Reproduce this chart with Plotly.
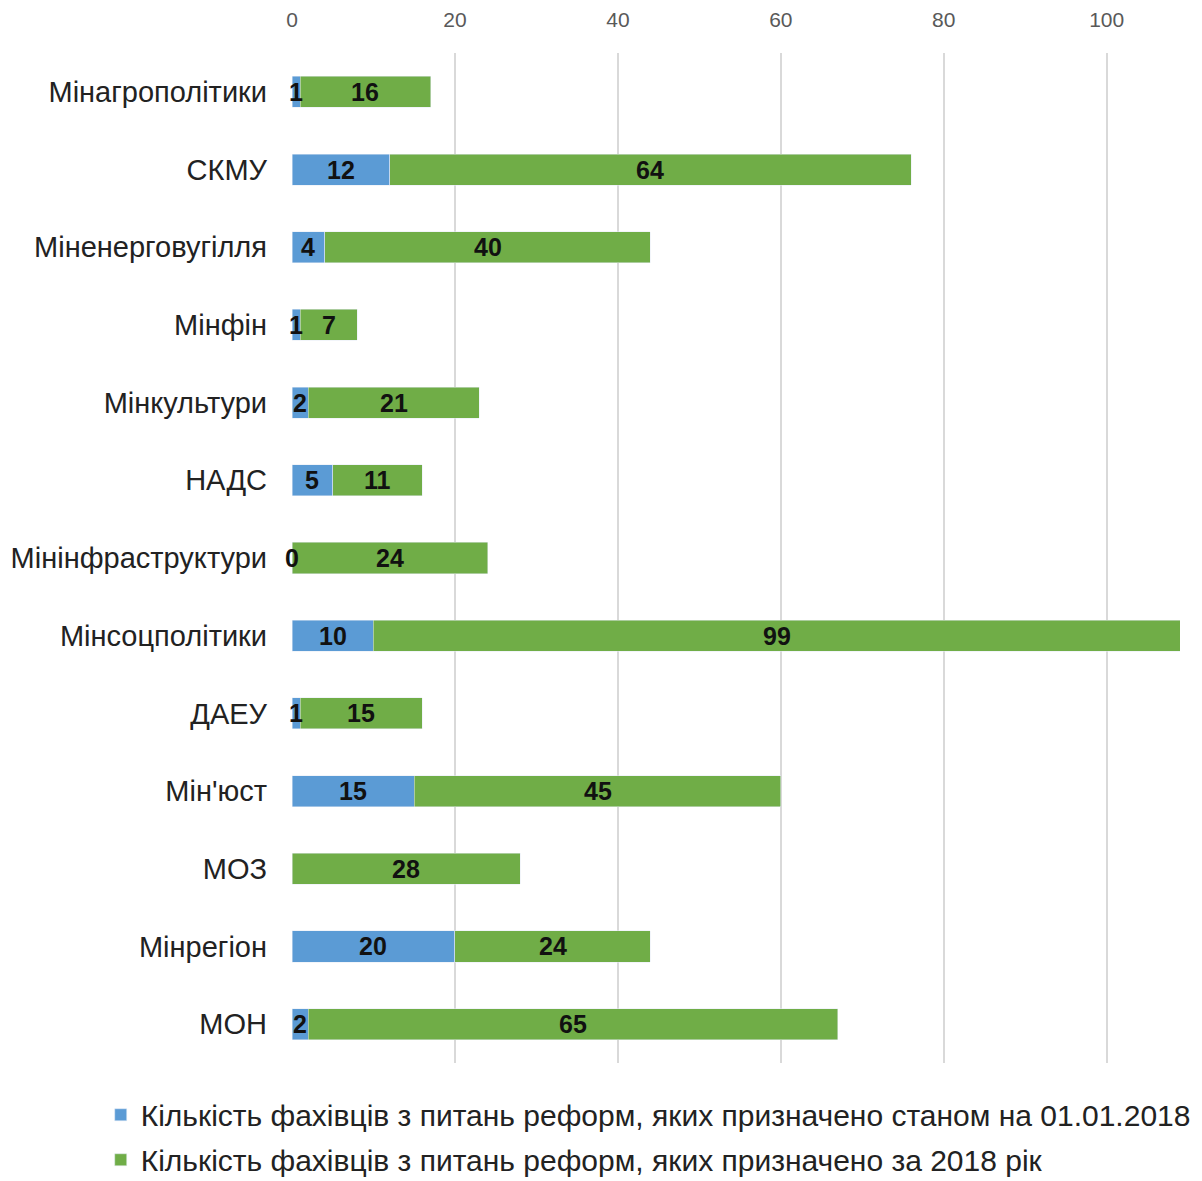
import plotly.graph_objects as go

categories = ["Мінагрополітики", "СКМУ", "Міненерговугілля", "Мінфін", "Мінкультури",
              "НАДС", "Мінінфраструктури", "Мінсоцполітики", "ДАЕУ", "Мін'юст",
              "МОЗ", "Мінрегіон", "МОН"]
before_2018 = [1, 12, 4, 1, 2, 5, 0, 10, 1, 15, None, 20, 2]
during_2018 = [16, 64, 40, 7, 21, 11, 24, 99, 15, 45, 28, 24, 65]
series_names = ["Кількість фахівців з питань реформ, яких призначено станом на 01.01.2018",
                "Кількість фахівців з питань реформ, яких призначено за 2018 рік"]
x_ticks = [0, 20, 40, 60, 80, 100]

BLUE = "#5B9BD5"
GREEN = "#70AD47"
FONT = "Liberation Sans, Arial, sans-serif"

fig = go.Figure()
fig.add_trace(go.Bar(y=categories, x=[v if v is not None else 0 for v in before_2018],
                     orientation="h", name=series_names[0], marker_color=BLUE,
                     legendgroup="a", hoverinfo="x+y"))
fig.add_trace(go.Bar(y=categories, x=during_2018, orientation="h", name=series_names[1],
                     marker_color=GREEN, legendgroup="b", hoverinfo="x+y"))

# data labels centred in each segment
for cat, b, d in zip(categories, before_2018, during_2018):
    base = b if b is not None else 0
    if b is not None:
        fig.add_annotation(x=b / 2, y=cat, text=f"<b>{b}</b>", showarrow=False,
                           xref="x", yref="y", font=dict(size=25, color="#111111", family=FONT))
    fig.add_annotation(x=base + d / 2, y=cat, text=f"<b>{d}</b>", showarrow=False,
                       xref="x", yref="y", font=dict(size=25, color="#111111", family=FONT))

max_total = max((b or 0) + d for b, d in zip(before_2018, during_2018))

fig.update_layout(
    width=1202, height=1190,
    margin=dict(l=284, r=30, t=45, b=127),
    barmode="stack", bargap=0.6,
    plot_bgcolor="white", paper_bgcolor="white",
    font=dict(family=FONT, color="#222222"),
    xaxis=dict(side="top", range=[0, max_total], tickvals=x_ticks, showgrid=True,
               gridcolor="#D9D9D9", gridwidth=1.5, zeroline=False, showline=False,
               automargin=False,
               tickfont=dict(size=21, color="#595959"), ticks="", ticklabelstandoff=21),
    yaxis=dict(autorange="reversed", showgrid=False, ticks="", ticklabelstandoff=24,
               automargin=False,
               tickfont=dict(size=29, color="#222222")),
    legend=dict(orientation="v", x=-0.2154, xanchor="left", y=-0.0255, yanchor="top",
                traceorder="grouped", tracegroupgap=3,
                font=dict(size=30, color="#222222"), itemwidth=30),
    showlegend=True,
)

fig.write_html("out.html")
